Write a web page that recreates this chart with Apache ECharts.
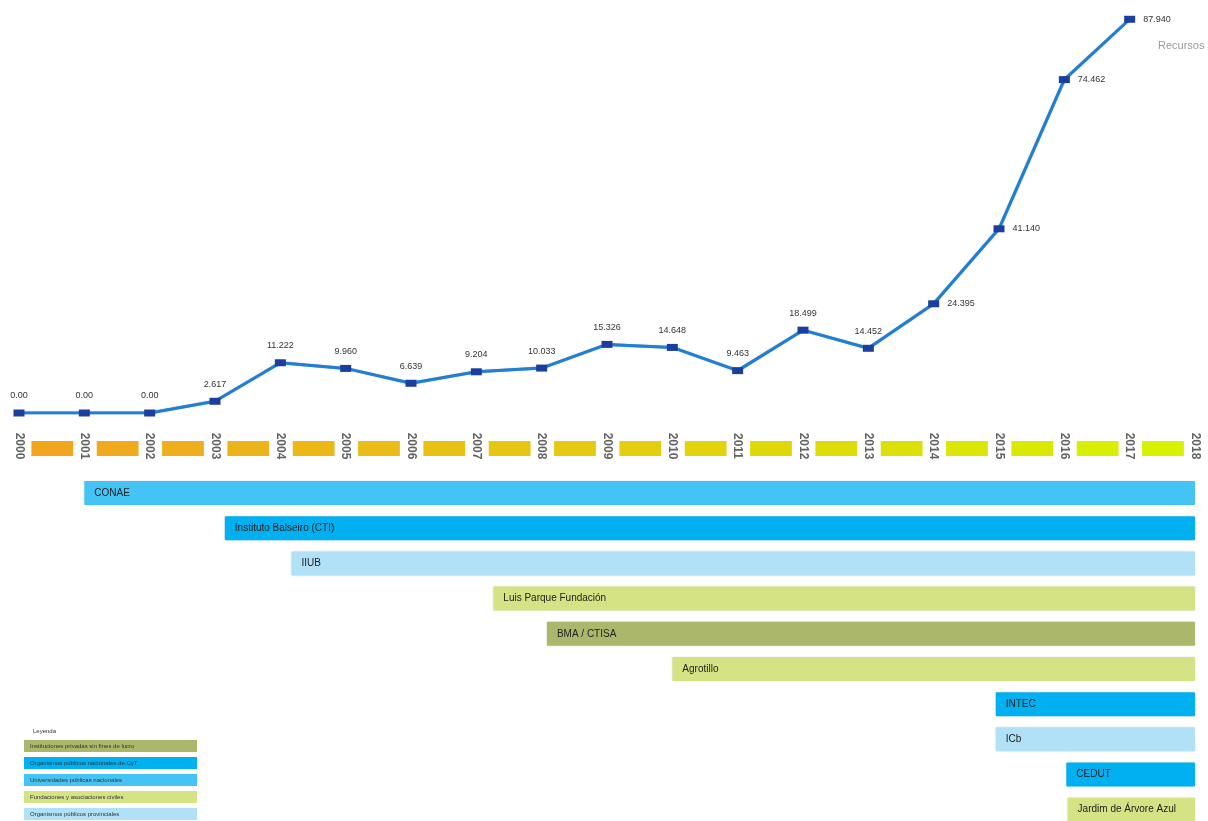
<!DOCTYPE html>
<html>
<head>
<meta charset="utf-8">
<script src="https://cdn.jsdelivr.net/npm/echarts@6/dist/echarts.min.js"></script>
<style>html,body{margin:0;padding:0;background:#fff}#c{width:1208px;height:821px}</style>
</head>
<body>
<div id="c"></div>
<script>
// ---- data ----
const years = ['2000','2001','2002','2003','2004','2005','2006','2007','2008','2009','2010','2011','2012','2013','2014','2015','2016','2017','2018'];
const values = [0, 0, 0, 2.617, 11.222, 9.960, 6.639, 9.204, 10.033, 15.326, 14.648, 9.463, 18.499, 14.452, 24.395, 41.140, 74.462, 87.940];
const projectNames = ['CONAE', 'Instituto Balseiro (CTI)', 'IIUB', 'Luis Parque Fundación', 'BMA / CTISA', 'Agrotillo', 'INTEC', 'ICb', 'CEDUT', 'Jardim de Árvore Azul'];
const projectStart = [2001, 2003.15, 2004.17, 2007.26, 2008.08, 2010.0, 2014.95, 2014.95, 2016.03, 2016.05];
const projectEnd = [2018, 2018, 2018, 2018, 2018, 2018, 2018, 2018, 2018, 2018];
const projectType = [2, 1, 4, 3, 0, 3, 1, 4, 1, 3];
const legendTitle = 'Leyenda';
const legendNames = ['Instituciones privadas sin fines de lucro', 'Organismos públicos nacionales de CyT', 'Universidades públicas nacionales', 'Fundaciones y asociaciones civiles', 'Organismos públicos provinciales'];
const cornerTitle = 'Recursos';

// ---- styles ----
const typeColors = ['#abb86c', '#00b0f0', '#43c4f4', '#d5e384', '#b0e1f6'];
const segColors = years.slice(0, -1).map((y, i) => {
  const t = i / 17;
  const a = [242, 166, 32], b = [214, 242, 0];
  const c = a.map((v, k) => Math.round(v + (b[k] - v) * t));
  return 'rgb(' + c.join(',') + ')';
});

const L = 19, R = 13;
const chart = echarts.init(document.getElementById('c'));

const graphics = [];
graphics.push({type: 'text', left: 33, top: 728, style: {text: legendTitle, font: '6px Arial', fill: '#333'}});
legendNames.forEach((n, i) => {
  graphics.push({type: 'rect', left: 24, top: 740 + i * 17, shape: {width: 173, height: 12}, style: {fill: typeColors[i]}});
  graphics.push({type: 'text', left: 30, top: 743 + i * 17, style: {text: n, font: '6px Arial', fill: '#333'}});
});
graphics.push({type: 'text', left: 1158, top: 40, style: {text: cornerTitle, font: '11px Arial', fill: '#9a9a9a'}});

chart.setOption({
  animation: false,
  grid: [
    {left: L, right: R, top: 19, height: 394},
    {left: L, right: R, top: 433, height: 26},
    {left: L, right: R, top: 475.4, bottom: 0}
  ],
  xAxis: [
    {gridIndex: 0, type: 'category', data: years, boundaryGap: false, show: false},
    {gridIndex: 1, type: 'value', min: 2000, max: 2018, show: false},
    {gridIndex: 2, type: 'value', min: 2000, max: 2018, show: false}
  ],
  yAxis: [
    {gridIndex: 0, type: 'value', min: 0, max: 88, show: false},
    {gridIndex: 1, type: 'value', min: 0, max: 1, show: false},
    {gridIndex: 2, type: 'value', min: -0.5, max: 9.32, inverse: true, show: false}
  ],
  graphic: graphics,
  series: [
    {
      type: 'line', xAxisIndex: 0, yAxisIndex: 0,
      data: values.map((v, i) => ({value: v, label: i >= 14 ? {position: 'right', distance: 8} : {position: 'top', distance: 9}})),
      symbol: 'rect', symbolSize: [11, 7],
      itemStyle: {color: '#1b3f9f'},
      lineStyle: {color: '#1f7fd2', width: 3, shadowColor: 'rgba(20,60,140,0.5)', shadowBlur: 1},
      label: {show: true, fontSize: 9, color: '#333', fontFamily: 'Arial',
        formatter: p => p.value === 0 ? '0.00' : p.value.toFixed(3)},
      z: 5
    },
    {
      type: 'custom', xAxisIndex: 1, yAxisIndex: 1,
      data: years.slice(0, -1).map((y, i) => [Number(y), i]),
      renderItem: (params, api) => {
        const y0 = Number(api.value(0));
        const p1 = api.coord([y0 + 0.19, 0.5]);
        const p2 = api.coord([y0 + 0.83, 0.5]);
        return {type: 'rect', shape: {x: p1[0], y: p1[1] - 5, width: p2[0] - p1[0], height: 15},
          style: {fill: segColors[api.value(1)]}};
      }
    },
    {
      type: 'scatter', xAxisIndex: 1, yAxisIndex: 1,
      data: years.map(y => [Number(y), 0.5]),
      symbolSize: 0,
      label: {show: true, position: 'inside', rotate: -90, formatter: p => String(p.value[0]),
        fontSize: 12, fontWeight: 'bold', color: '#3a3a3a', fontFamily: 'Arial'}
    },
    {
      type: 'custom', xAxisIndex: 2, yAxisIndex: 2,
      data: projectNames.map((n, i) => [i, projectStart[i], projectEnd[i], projectType[i]]),
      renderItem: (params, api) => {
        const row = api.value(0);
        const s = api.coord([api.value(1), row]);
        const e = api.coord([api.value(2), row]);
        const h = 24;
        return {type: 'group', children: [
          {type: 'rect', shape: {x: s[0], y: s[1] - h / 2, width: e[0] - s[0], height: h, r: 1},
            style: {fill: typeColors[api.value(3)], shadowColor: 'rgba(0,0,0,0.15)', shadowBlur: 2}},
          {type: 'text', x: s[0] + 10, y: s[1], style: {text: projectNames[row], font: '10px Arial', fill: '#222', verticalAlign: 'middle'}}
        ]};
      }
    }
  ]
});
</script>
</body>
</html>
